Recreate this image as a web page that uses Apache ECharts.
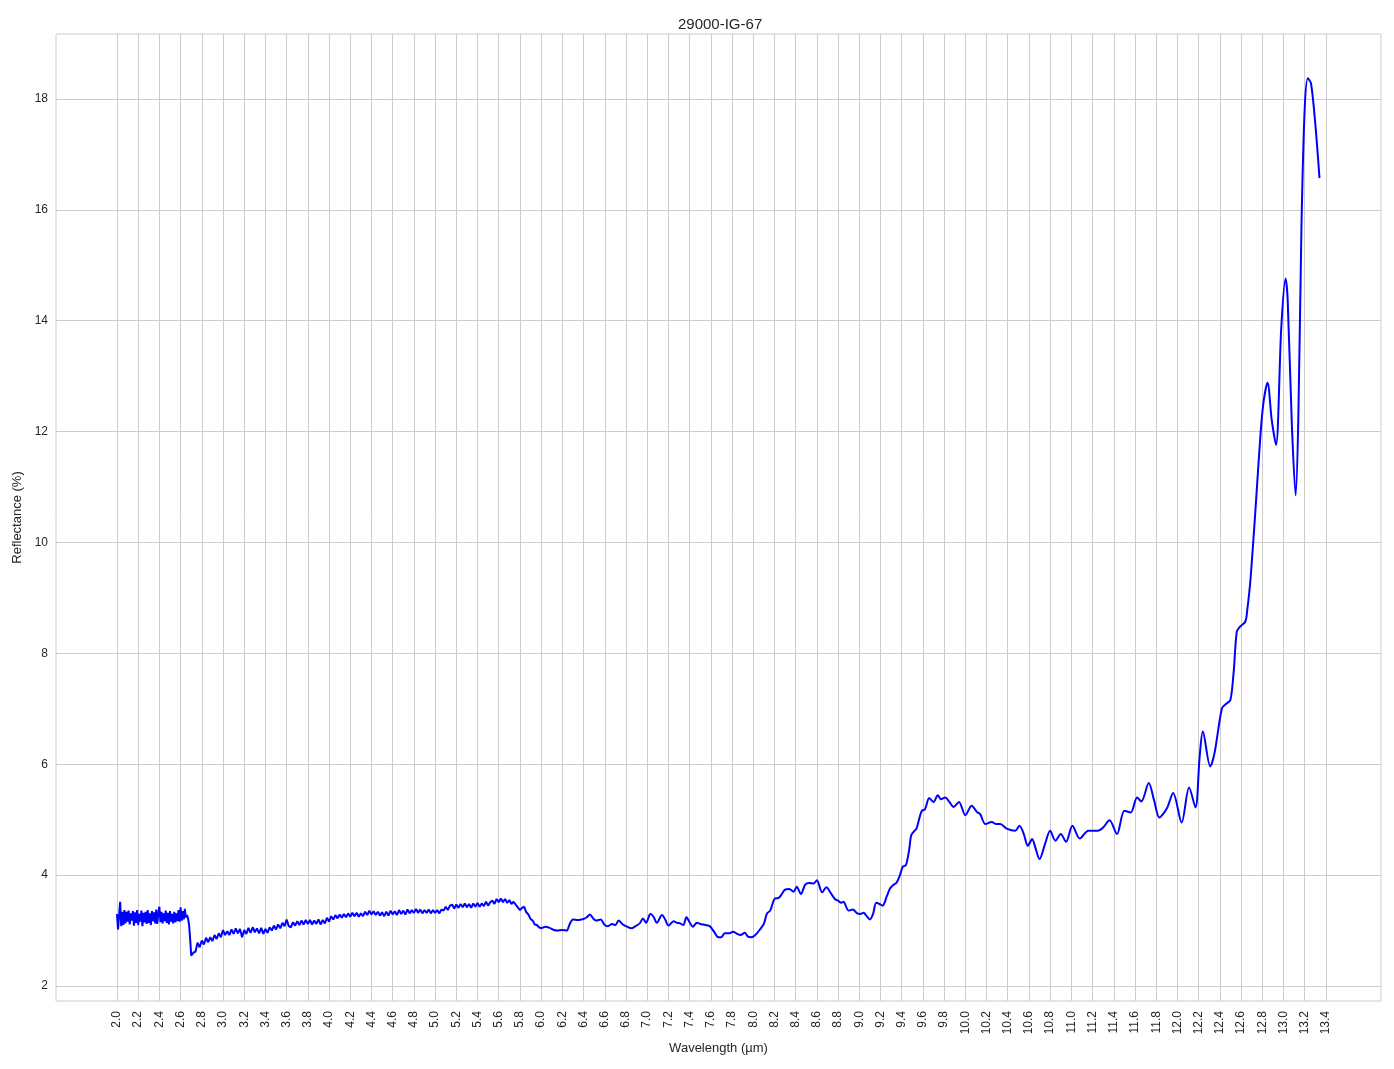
<!DOCTYPE html>
<html>
<head>
<meta charset="utf-8">
<script src="https://cdn.jsdelivr.net/npm/echarts@6/dist/echarts.min.js"></script>
<style>html,body{margin:0;padding:0;background:#fff;}#c{width:1394px;height:1069px;}</style>
</head>
<body>
<div id="c"></div>
<script>
// Noisy section (2.00 - 2.72, step 0.01)
var noisyStart = 2.00, noisyStep = 0.01;
var noisyValues = [3.30,3.02,3.28,3.52,3.08,3.34,3.10,3.37,3.13,3.34,3.16,3.36,3.11,3.31,3.18,3.35,3.09,3.33,3.14,3.37,3.10,3.30,3.16,3.36,3.08,3.32,3.15,3.34,3.12,3.37,3.14,3.31,3.10,3.35,3.17,3.33,3.13,3.38,3.12,3.32,3.43,3.15,3.34,3.13,3.31,3.17,3.36,3.14,3.32,3.11,3.35,3.16,3.30,3.13,3.34,3.15,3.31,3.17,3.37,3.16,3.42,3.18,3.35,3.20,3.39,3.24,3.28,3.22,3.10,2.85,2.55,2.52,2.60];
// Fuzzy section (2.74 - 6.00, step 0.02)
var fuzzyStart = 2.74, fuzzyStep = 0.02;
var fuzzyValues = [
  2.62,2.78,2.70,2.82,2.75,2.87,2.79,2.88,2.81,2.92,
  2.85,2.95,2.88,3.01,2.92,2.99,2.92,3.02,2.94,3.04,
  2.95,3.03,2.88,3.01,2.94,3.05,2.96,3.06,2.97,3.04,
  2.95,3.05,2.94,3.03,2.96,3.06,3.00,3.09,3.02,3.11,
  3.04,3.14,3.08,3.20,3.08,3.06,3.15,3.09,3.17,3.10,
  3.18,3.11,3.19,3.12,3.19,3.11,3.18,3.12,3.20,3.11,
  3.19,3.13,3.23,3.16,3.26,3.20,3.28,3.22,3.29,3.23,
  3.30,3.24,3.31,3.25,3.32,3.26,3.32,3.25,3.31,3.26,
  3.34,3.28,3.36,3.29,3.35,3.28,3.34,3.27,3.33,3.26,
  3.34,3.27,3.36,3.29,3.35,3.28,3.37,3.30,3.36,3.29,
  3.38,3.31,3.37,3.32,3.39,3.32,3.38,3.31,3.37,3.32,
  3.38,3.31,3.37,3.32,3.37,3.31,3.38,3.36,3.43,3.37,
  3.45,3.47,3.40,3.47,3.41,3.48,3.42,3.49,3.42,3.48,
  3.41,3.49,3.43,3.50,3.43,3.49,3.44,3.52,3.45,3.51,
  3.54,3.48,3.57,3.51,3.58,3.51,3.57,3.50,3.55,3.48,
  3.52,3.47,3.42,3.37,3.41,3.43,3.33,3.29,3.21,3.18,
  3.11,3.10,3.06,3.04];
// Smooth section (6.00 - 13.34)
var smoothWl = [6.00,6.04,6.08,6.12,6.15,6.20,6.24,6.27,6.30,6.35,6.40,6.43,6.46,6.49,6.52,6.56,6.60,6.63,6.67,6.70,6.73,6.77,6.81,6.85,6.89,6.93,6.96,6.99,7.03,7.06,7.09,7.14,7.17,7.20,7.25,7.28,7.31,7.34,7.37,7.40,7.43,7.47,7.50,7.55,7.59,7.63,7.67,7.70,7.73,7.77,7.81,7.85,7.88,7.92,7.95,7.98,8.00,8.03,8.06,8.10,8.13,8.16,8.20,8.24,8.27,8.30,8.34,8.38,8.41,8.45,8.49,8.53,8.57,8.60,8.65,8.69,8.73,8.77,8.80,8.83,8.85,8.90,8.94,8.98,9.01,9.04,9.07,9.10,9.13,9.16,9.19,9.22,9.26,9.29,9.32,9.35,9.38,9.41,9.44,9.47,9.49,9.52,9.54,9.57,9.59,9.62,9.66,9.70,9.74,9.77,9.81,9.85,9.89,9.94,10.00,10.06,10.11,10.14,10.19,10.25,10.29,10.33,10.39,10.47,10.51,10.55,10.59,10.63,10.66,10.70,10.75,10.80,10.85,10.90,10.95,11.01,11.08,11.16,11.25,11.30,11.36,11.43,11.50,11.56,11.62,11.66,11.73,11.78,11.83,11.90,11.96,12.04,12.11,12.17,12.21,12.24,12.31,12.35,12.42,12.46,12.50,12.53,12.56,12.59,12.64,12.66,12.69,12.74,12.78,12.81,12.85,12.89,12.93,12.98,13.02,13.04,13.08,13.115,13.14,13.17,13.20,13.23,13.26,13.30,13.34];
var smoothValues = [3.04,3.07,3.05,3.01,3.00,3.01,3.00,3.12,3.20,3.19,3.21,3.24,3.29,3.22,3.18,3.20,3.10,3.08,3.12,3.10,3.18,3.11,3.07,3.04,3.08,3.13,3.22,3.14,3.30,3.25,3.14,3.28,3.20,3.09,3.17,3.14,3.13,3.10,3.24,3.15,3.07,3.14,3.12,3.10,3.08,2.98,2.88,2.88,2.95,2.95,2.98,2.94,2.92,2.96,2.89,2.88,2.89,2.94,3.01,3.12,3.31,3.36,3.57,3.59,3.66,3.74,3.75,3.70,3.79,3.66,3.83,3.86,3.85,3.91,3.69,3.78,3.68,3.57,3.54,3.50,3.52,3.36,3.38,3.31,3.30,3.32,3.26,3.20,3.30,3.50,3.48,3.45,3.62,3.76,3.82,3.86,3.98,4.15,4.18,4.45,4.72,4.80,4.84,5.05,5.16,5.19,5.39,5.32,5.44,5.37,5.40,5.32,5.23,5.32,5.08,5.25,5.14,5.10,4.92,4.96,4.92,4.92,4.84,4.80,4.89,4.75,4.53,4.65,4.50,4.29,4.55,4.80,4.62,4.74,4.60,4.89,4.66,4.80,4.80,4.86,4.99,4.74,5.16,5.13,5.40,5.33,5.66,5.35,5.04,5.20,5.48,4.95,5.58,5.22,6.14,6.59,5.96,6.20,7.01,7.09,7.16,7.65,8.39,8.48,8.57,8.80,9.35,10.70,11.85,12.50,12.88,12.20,11.76,13.89,14.76,14.37,12.09,10.85,12.20,15.70,17.80,18.37,18.28,17.56,16.57];
var xTicks = [2.0,2.2,2.4,2.6,2.8,3.0,3.2,3.4,3.6,3.8,4.0,4.2,4.4,4.6,4.8,5.0,5.2,5.4,5.6,5.8,6.0,6.2,6.4,6.6,6.8,7.0,7.2,7.4,7.6,7.8,8.0,8.2,8.4,8.6,8.8,9.0,9.2,9.4,9.6,9.8,10.0,10.2,10.4,10.6,10.8,11.0,11.2,11.4,11.6,11.8,12.0,12.2,12.4,12.6,12.8,13.0,13.2,13.4];
var yTicks = [2,4,6,8,10,12,14,16,18];

var rawData = [];
noisyValues.forEach(function(v,i){ rawData.push([+(noisyStart + i*noisyStep).toFixed(3), v]); });
fuzzyValues.forEach(function(v,i){ rawData.push([+(fuzzyStart + i*fuzzyStep).toFixed(3), v]); });
var smoothData = smoothWl.map(function(w,i){ return [w, smoothValues[i]]; });

var txt = '#262626';
var font = 'Liberation Sans, Arial, sans-serif';
var chart = echarts.init(document.getElementById('c'), null, {renderer:'canvas'});
chart.setOption({
  animation: false,
  backgroundColor: '#fff',
  title: {
    text: '29000-IG-67', left: 673, top: 12,
    textStyle: {fontFamily: font, fontSize: 15, fontWeight: 'normal', color: txt}
  },
  grid: {left: 56, right: 13, top: 34, bottom: 68, show: true, borderColor: '#cccccc', borderWidth: 1, backgroundColor: '#fff'},
  xAxis: {
    type: 'value', min: 1.425, max: 13.92,
    name: 'Wavelength (µm)', nameLocation: 'middle', nameGap: 40,
    nameTextStyle: {fontFamily: font, fontSize: 13, color: txt},
    axisLine: {show: false}, axisTick: {show: false, customValues: xTicks},
    axisLabel: {customValues: xTicks, rotate: 90, margin: 10, fontFamily: font, fontSize: 12, color: txt,
      formatter: function(v){ return v.toFixed(1); }},
    splitLine: {show: true, lineStyle: {color: '#cccccc', width: 1}}
  },
  yAxis: {
    type: 'value', min: 1.73, max: 19.17,
    name: 'Reflectance (%)', nameLocation: 'middle', nameGap: 29,
    nameTextStyle: {fontFamily: font, fontSize: 13, color: txt},
    axisLine: {show: false}, axisTick: {show: false, customValues: yTicks},
    axisLabel: {customValues: yTicks, margin: 8, fontFamily: font, fontSize: 12, color: txt},
    splitLine: {show: true, lineStyle: {color: '#cccccc', width: 1}}
  },
  series: [
    {type: 'line', data: rawData, showSymbol: false, symbol: 'none', lineStyle: {color: '#0000ff', width: 2}, itemStyle: {color: '#0000ff'}},
    {type: 'line', data: smoothData, showSymbol: false, symbol: 'none', smooth: 0.3, lineStyle: {color: '#0000ff', width: 2}, itemStyle: {color: '#0000ff'}}
  ]
});
</script>
</body>
</html>
